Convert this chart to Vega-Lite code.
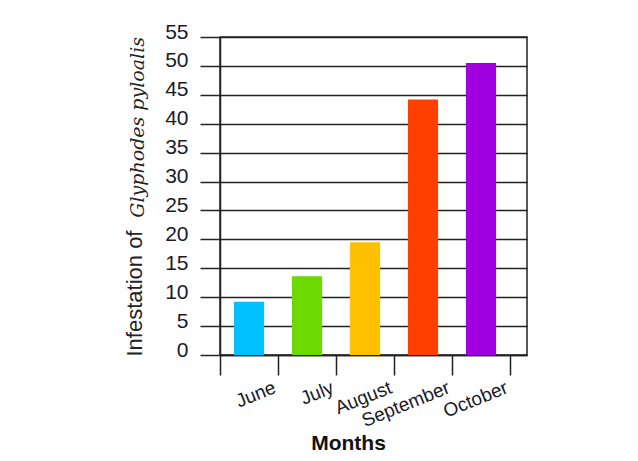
{
  "$schema": "https://vega.github.io/schema/vega-lite/v6.json",
  "width": 307,
  "height": 318,
  "autosize": "none",
  "padding": {"left": 220, "top": 37, "right": 111, "bottom": 106},
  "background": "white",
  "title": {
    "text": "Glyphodes  pyloalis",
    "orient": "left",
    "anchor": "end",
    "frame": "group",
    "font": "DejaVu Serif",
    "fontStyle": "italic",
    "fontWeight": "normal",
    "fontSize": 19,
    "color": "#222222",
    "offset": -25
  },
  "data": {
    "values": [
      {"month": "June", "infestation": 9.2},
      {"month": "July", "infestation": 13.6},
      {"month": "August", "infestation": 19.5},
      {"month": "September", "infestation": 44.2},
      {"month": "October", "infestation": 50.5}
    ]
  },
  "mark": {"type": "bar", "width": {"band": 0.52}},
  "encoding": {
    "x": {
      "field": "month",
      "type": "nominal",
      "sort": null,
      "scale": {"paddingInner": 0, "paddingOuter": 0.1466, "align": 0},
      "axis": {
        "title": "Months",
        "titleFont": "Liberation Sans",
        "titleFontSize": 21,
        "titleFontWeight": "bold",
        "titleColor": "#111111",
        "titleX": 128,
        "titleY": 88,
        "titleAlign": "center",
        "titleBaseline": "middle",
        "tickBand": "extent",
        "tickSize": 20,
        "tickColor": "#222222",
        "tickWidth": 1.5,
        "domainColor": "#222222",
        "domainWidth": 1.5,
        "labelAngle": -22,
        "labelAlign": "right",
        "labelBaseline": "top",
        "labelOffset": 22,
        "labelPadding": 3,
        "labelFont": "Liberation Sans",
        "labelFontSize": 19,
        "labelColor": "#1a1a2a"
      }
    },
    "y": {
      "field": "infestation",
      "type": "quantitative",
      "scale": {"domain": [0, 55], "nice": false},
      "axis": {
        "title": "Infestation of",
        "titleFont": "Liberation Sans",
        "titleFontSize": 22,
        "titleFontWeight": "normal",
        "titleColor": "#222222",
        "titleX": -86,
        "titleY": 319,
        "titleAngle": -90,
        "titleAlign": "left",
        "titleBaseline": "middle",
        "values": [0, 5, 10, 15, 20, 25, 30, 35, 40, 45, 50, 55],
        "grid": true,
        "gridColor": "#222222",
        "gridWidth": 1.5,
        "gridOpacity": 1,
        "tickSize": 20,
        "tickColor": "#222222",
        "tickWidth": 1.5,
        "domainColor": "#222222",
        "domainWidth": 1.5,
        "labelPadding": 12,
        "labelOffset": -5,
        "labelFont": "Liberation Sans",
        "labelFontSize": 21,
        "labelColor": "#1a1a2a"
      }
    },
    "color": {
      "field": "month",
      "type": "nominal",
      "sort": null,
      "scale": {
        "domain": ["June", "July", "August", "September", "October"],
        "range": ["#00C0FF", "#6CD900", "#FFC000", "#FF4000", "#A000E0"]
      },
      "legend": null
    }
  },
  "config": {
    "view": {"stroke": "#222222", "strokeWidth": 1.5}
  }
}
